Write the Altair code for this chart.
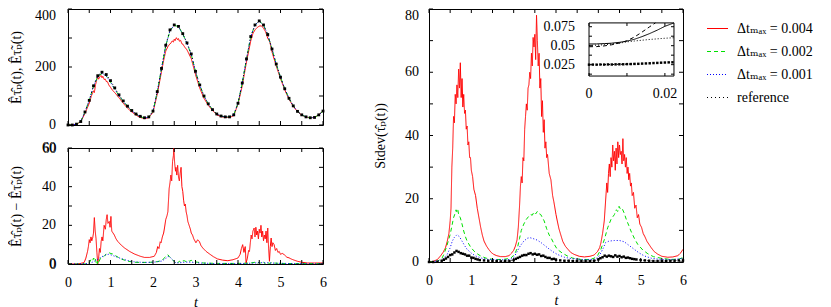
import altair as alt
import pandas as pd

# ---------------- data ----------------
SERIES = ["Δtₘₐₓ = 0.004", "Δtₘₐₓ = 0.002", "Δtₘₐₓ = 0.001", "reference"]
COLORS = ["#ff0000", "#00e000", "#0000ff", "#000000"]
DASHES = [[1, 0], [4, 3], [1, 2], [1, 3]]

T_TOP = [round(0.1 * i, 1) for i in range(61)]
ref_top = [0, 0, 3, 12, 45, 85, 135, 170, 182, 174, 153, 128, 104, 83, 65, 50, 38, 30, 25, 28,
           48, 115, 195, 275, 328, 345, 340, 315, 283, 245, 185, 138, 100, 73, 53, 38, 31, 28, 28, 35,
           75, 145, 228, 305, 345, 359, 345, 312, 262, 210, 165, 125, 92, 66, 47, 35, 28, 25, 26, 35, 48]
green_top = [0, 0, 3, 12, 45, 85, 133, 167, 178, 169, 148, 124, 101, 81, 64, 49, 37, 29, 24, 27,
             47, 114, 194, 273, 325, 344, 339, 314, 281, 243, 184, 137, 100, 73, 53, 38, 31, 28, 28, 35,
             75, 145, 228, 305, 345, 359, 345, 311, 262, 210, 165, 125, 92, 66, 47, 35, 28, 25, 26, 35, 48]
blue_top = [0, 0, 3, 12, 45, 85, 134, 168, 178, 169, 148, 124, 101, 81, 64, 49, 37, 29, 24, 27,
            47, 114, 194, 273, 325, 344, 339, 314, 282, 244, 184, 137, 100, 73, 53, 38, 31, 28, 28, 35,
            75, 145, 228, 305, 345, 358, 345, 312, 262, 210, 165, 125, 92, 66, 47, 35, 28, 25, 26, 35, 48]
red_top = [(0, 0), (0.1, 0), (0.2, 3), (0.3, 11), (0.4, 40), (0.5, 75), (0.55, 100), (0.6, 118), (0.62, 112),
           (0.65, 140), (0.68, 158), (0.70, 165), (0.72, 158), (0.75, 167), (0.78, 171), (0.8, 163), (0.82, 168),
           (0.85, 157), (0.88, 158), (0.9, 150), (0.93, 149), (0.96, 138), (1.0, 130), (1.05, 119), (1.1, 112),
           (1.2, 94), (1.3, 75), (1.4, 58), (1.5, 45), (1.6, 34), (1.7, 26), (1.8, 22), (1.9, 25), (2.0, 44),
           (2.1, 106), (2.2, 184), (2.25, 222), (2.3, 255), (2.35, 270), (2.38, 277), (2.42, 282), (2.45, 290),
           (2.48, 286), (2.5, 296), (2.52, 291), (2.55, 301), (2.58, 294), (2.6, 298), (2.62, 289), (2.65, 292),
           (2.68, 280), (2.7, 279), (2.75, 268), (2.8, 259), (2.9, 229), (3.0, 174), (3.1, 127), (3.2, 92),
           (3.3, 68), (3.4, 50), (3.5, 35), (3.6, 29), (3.7, 26), (3.8, 26), (3.9, 32), (4.0, 72), (4.1, 135),
           (4.2, 218), (4.3, 290), (4.35, 315), (4.4, 328), (4.45, 336), (4.5, 341), (4.55, 342), (4.6, 334),
           (4.65, 321), (4.7, 299), (4.75, 286), (4.8, 252), (4.9, 203), (5.0, 160), (5.1, 121), (5.2, 89),
           (5.3, 64), (5.4, 46), (5.5, 34), (5.6, 27), (5.7, 25), (5.8, 26), (5.9, 35), (6.0, 48)]

red_diff = [(0, 0), (0.2, 0), (0.3, 0.3), (0.38, 0.8), (0.42, 3), (0.46, 6.5), (0.48, 9), (0.5, 12.6), (0.52, 11),
            (0.54, 14), (0.56, 12), (0.58, 13.4), (0.6, 16), (0.62, 24), (0.64, 17), (0.66, 13), (0.68, 6),
            (0.70, 0), (0.72, 3), (0.74, 8), (0.76, 6), (0.78, 11.7), (0.8, 14), (0.82, 12), (0.85, 20),
            (0.88, 18), (0.90, 23), (0.92, 25.5), (0.94, 21), (0.97, 22), (0.99, 19), (1.01, 24.6), (1.03, 17),
            (1.06, 16), (1.09, 15), (1.13, 13), (1.17, 11.7), (1.25, 9.8), (1.33, 8.3), (1.45, 6.5), (1.56, 5.2),
            (1.7, 4), (1.8, 3.4), (1.92, 3.4), (2.03, 4), (2.08, 6), (2.11, 9), (2.14, 8), (2.17, 11.5),
            (2.19, 11), (2.22, 14), (2.25, 16), (2.27, 18.6), (2.3, 23), (2.33, 25), (2.35, 27), (2.37, 35),
            (2.38, 39), (2.40, 42), (2.42, 46), (2.44, 43), (2.46, 53), (2.48, 56), (2.49, 60), (2.51, 52),
            (2.53, 48), (2.54, 50), (2.56, 46), (2.58, 51), (2.60, 45), (2.62, 43), (2.64, 47), (2.66, 50),
            (2.68, 40), (2.70, 37.6), (2.72, 33), (2.74, 30), (2.76, 31), (2.78, 27), (2.80, 25), (2.82, 22),
            (2.85, 20), (2.88, 18), (2.9, 16), (2.93, 15), (2.96, 13), (3.01, 11), (3.05, 12.5), (3.09, 11.7),
            (3.13, 9.5), (3.17, 8.3), (3.25, 6.5), (3.33, 5.2), (3.42, 3.8), (3.52, 2.6), (3.64, 2), (3.76, 1.7),
            (3.88, 2.2), (4.0, 3.1), (4.05, 5), (4.08, 8), (4.11, 10), (4.14, 6), (4.17, 9), (4.19, 0.5),
            (4.22, 3), (4.25, 7), (4.27, 6.5), (4.29, 11), (4.31, 15), (4.33, 13), (4.35, 17), (4.38, 18.6),
            (4.40, 14), (4.42, 19), (4.44, 15), (4.46, 17), (4.48, 13), (4.50, 18), (4.52, 16), (4.54, 20),
            (4.56, 14), (4.58, 17), (4.60, 12), (4.62, 15), (4.64, 13), (4.66, 17), (4.68, 11), (4.70, 18.6),
            (4.72, 8), (4.74, 1.4), (4.76, 9), (4.78, 13.4), (4.80, 9), (4.82, 11), (4.85, 10), (4.88, 7),
            (4.91, 8), (4.94, 6), (4.97, 6.5), (5.0, 5), (5.04, 5.5), (5.09, 4.8), (5.15, 3.5), (5.2, 3.2),
            (5.25, 2.6), (5.32, 2), (5.4, 1.4), (5.5, 0.9), (5.64, 0.5), (5.8, 0.5), (6.0, 0.5)]
green_diff = [(0, 0), (0.4, 0), (0.5, 0.6), (0.54, 2.2), (0.58, 1.5), (0.6, 3.1), (0.62, 2.5), (0.64, 3.3),
              (0.66, 1), (0.68, -0.5), (0.70, 1.4), (0.72, 0.3), (0.75, 2.5), (0.8, 3.2), (0.85, 4), (0.9, 5.2),
              (0.93, 5.7), (0.97, 5.8), (1.01, 5.4), (1.05, 5.2), (1.1, 4.5), (1.18, 3.5), (1.25, 2.6), (1.4, 1.5),
              (1.56, 0.9), (1.75, 0.8), (1.95, 0.9), (2.1, 1.2), (2.19, 1.7), (2.25, 2.8), (2.3, 3.8), (2.35, 4.8),
              (2.38, 4), (2.42, 3), (2.46, 2.2), (2.5, 1.2), (2.54, 0.3), (2.58, 0.5), (2.62, 1.5), (2.66, 0.8),
              (2.7, 1.6), (2.74, 1.7), (2.78, 1.2), (2.82, 2), (2.86, 1.5), (2.9, 1.9), (2.94, 1.3), (3.0, 1.1),
              (3.05, 0.9), (3.2, 0.5), (3.52, 0.3), (3.9, 0.3), (4.2, 0.4), (4.3, 0.5), (4.4, 0.9), (4.45, 0.3),
              (4.5, 1), (4.55, 0.2), (4.6, 0.9), (4.62, 0.7), (4.66, -0.6), (4.7, 0.6), (4.75, 0.3), (4.8, 0.8),
              (4.85, 0.5), (5.0, 0.3), (5.5, 0.2), (6.0, 0.2)]
blue_diff = [(0, 0), (0.5, 0.2), (0.6, 1.2), (0.7, 2.5), (0.8, 3.8), (0.9, 4.8), (0.95, 5), (1.0, 4.8), (1.1, 4),
             (1.25, 2.8), (1.4, 1.8), (1.56, 1.1), (1.8, 0.8), (2.0, 0.9), (2.2, 1.5), (2.3, 2.8), (2.35, 4),
             (2.4, 3.5), (2.46, 2.2), (2.52, 0.8), (2.6, 0.5), (2.75, 1), (2.9, 0.9), (3.1, 0.5), (3.5, 0.2),
             (4.0, 0.2), (4.3, 0.4), (4.5, 0.7), (4.7, 0.6), (4.9, 0.4), (5.3, 0.2), (6.0, 0.1)]

red_std = [(0, 0), (0.1, 0.2), (0.2, 0.8), (0.27, 1.9), (0.33, 3), (0.39, 4.5), (0.43, 6.5), (0.47, 9), (0.5, 13),
           (0.52, 17), (0.54, 30), (0.56, 36), (0.58, 46), (0.6, 44), (0.62, 53), (0.64, 50), (0.66, 56), (0.68, 52),
           (0.70, 61), (0.72, 55), (0.74, 63), (0.76, 52), (0.78, 58), (0.80, 49), (0.82, 53), (0.84, 47),
           (0.86, 48), (0.88, 42), (0.90, 43), (0.92, 37), (0.94, 38), (0.96, 33), (0.98, 33), (1.0, 29),
           (1.03, 27), (1.06, 23), (1.1, 21), (1.14, 17), (1.18, 14), (1.22, 11), (1.26, 8.5), (1.30, 6.6),
           (1.36, 5), (1.41, 4), (1.47, 3), (1.53, 2.4), (1.6, 2), (1.69, 1.7), (1.8, 1.7), (1.89, 2), (1.95, 2.8),
           (2.0, 3.7), (2.04, 5), (2.08, 7), (2.11, 11), (2.14, 18), (2.16, 24), (2.18, 27), (2.20, 25),
           (2.22, 33), (2.24, 32), (2.26, 42), (2.28, 46), (2.30, 50), (2.32, 48), (2.34, 55), (2.36, 56),
           (2.38, 60), (2.40, 58), (2.42, 66), (2.44, 62), (2.46, 71), (2.48, 68), (2.50, 72), (2.52, 64),
           (2.54, 78), (2.56, 70), (2.58, 62), (2.60, 66), (2.62, 55), (2.64, 58), (2.66, 46), (2.68, 51),
           (2.70, 41), (2.72, 45), (2.74, 36), (2.76, 38), (2.78, 33), (2.80, 34), (2.84, 28), (2.88, 26),
           (2.92, 21), (2.95, 19), (3.0, 15), (3.03, 13), (3.07, 10.5), (3.11, 8.7), (3.16, 6.5), (3.22, 5),
           (3.27, 4.2), (3.35, 3), (3.43, 2.4), (3.55, 1.8), (3.67, 1.6), (3.8, 1.8), (3.9, 2.2), (3.98, 3.3),
           (4.03, 4.5), (4.06, 6), (4.1, 9), (4.14, 13), (4.17, 19), (4.2, 25), (4.22, 22), (4.24, 28),
           (4.26, 31), (4.28, 27), (4.30, 33), (4.32, 30), (4.34, 37), (4.36, 32), (4.38, 35), (4.40, 29),
           (4.42, 36), (4.44, 31), (4.46, 38), (4.48, 33), (4.50, 37), (4.52, 34), (4.54, 35), (4.56, 31),
           (4.58, 39), (4.60, 32), (4.62, 34), (4.64, 30), (4.66, 33), (4.68, 28), (4.70, 30), (4.72, 26),
           (4.74, 28), (4.76, 24), (4.78, 25), (4.80, 21), (4.83, 22), (4.86, 17), (4.89, 18), (4.92, 14),
           (4.95, 15), (4.98, 12), (5.02, 11), (5.06, 9), (5.1, 8), (5.15, 6.5), (5.2, 5.5), (5.25, 4.5),
           (5.32, 3.3), (5.4, 2.5), (5.5, 1.8), (5.64, 1.5), (5.76, 1.6), (5.88, 2), (5.94, 2.8), (6.0, 4)]
green_std = [(0, 0), (0.2, 0.3), (0.3, 1), (0.35, 2.4), (0.42, 5), (0.5, 8.7), (0.55, 12), (0.58, 14),
             (0.62, 15.5), (0.64, 16.5), (0.66, 15.8), (0.68, 16.6), (0.70, 15), (0.74, 14), (0.78, 12),
             (0.82, 9.8), (0.86, 8), (0.9, 6.6), (0.98, 4.8), (1.06, 3.5), (1.14, 2.6), (1.22, 1.9), (1.35, 1.2),
             (1.53, 0.8), (1.75, 0.8), (1.93, 1.2), (2.02, 2.4), (2.09, 4.5), (2.14, 7.5), (2.18, 10), (2.24, 12),
             (2.3, 13.5), (2.36, 14.5), (2.4, 15), (2.44, 14.8), (2.48, 15.8), (2.52, 15.2), (2.56, 16),
             (2.6, 15.3), (2.64, 15), (2.68, 14), (2.72, 13), (2.78, 10.5), (2.84, 8.5), (2.88, 7.7), (2.95, 5.8),
             (3.03, 4), (3.15, 2.8), (3.27, 1.9), (3.4, 1.2), (3.59, 0.8), (3.8, 0.8), (3.9, 1.2), (3.98, 2),
             (4.06, 4), (4.14, 7), (4.22, 10.8), (4.3, 13.5), (4.38, 15), (4.42, 16.5), (4.46, 16), (4.49, 17.6),
             (4.52, 16.8), (4.56, 17), (4.61, 15.5), (4.66, 13.5), (4.72, 11.5), (4.77, 9.8), (4.85, 7.5),
             (4.93, 5.6), (5.05, 3.8), (5.17, 2.6), (5.3, 1.7), (5.48, 1.2), (5.7, 0.8), (5.9, 0.9), (6.0, 1.4)]
blue_std = [(0, 0), (0.3, 0.5), (0.43, 2.4), (0.5, 4.5), (0.55, 6.6), (0.6, 7.8), (0.66, 8.6), (0.72, 8),
            (0.78, 6.6), (0.84, 5.2), (0.9, 4), (1.0, 2.8), (1.1, 1.9), (1.25, 1.2), (1.4, 0.8), (1.7, 0.7),
            (1.93, 0.8), (2.02, 1.8), (2.09, 3.5), (2.16, 5.2), (2.24, 6.6), (2.32, 7.5), (2.38, 7.7),
            (2.46, 7.4), (2.56, 6.9), (2.66, 6), (2.8, 4.5), (2.92, 3.3), (3.03, 2.4), (3.2, 1.5), (3.35, 1.1),
            (3.6, 0.8), (3.9, 0.8), (4.0, 1.5), (4.06, 2.9), (4.12, 4.5), (4.17, 6.1), (4.25, 6.6), (4.38, 6.8),
            (4.5, 6.8), (4.61, 6.4), (4.72, 5.3), (4.85, 4), (4.97, 2.8), (5.09, 1.9), (5.25, 1.2), (5.48, 0.8),
            (5.8, 0.8), (6.0, 1.2)]
ref_std = [(0, 0), (0.1, 0), (0.2, 0.1), (0.3, 0.4), (0.35, 0.7), (0.4, 1.1), (0.45, 1.6), (0.5, 2.2),
           (0.55, 2.4), (0.6, 3), (0.65, 3.5), (0.7, 3.2), (0.75, 2.8), (0.8, 2.6), (0.85, 2.4), (0.9, 2),
           (0.95, 2), (1.0, 1.4), (1.05, 1.3), (1.1, 1), (1.15, 0.8), (1.2, 0.6), (1.3, 0.5), (1.4, 0.4),
           (1.5, 0.3), (1.6, 0.3), (1.7, 0.2), (1.8, 0.3), (1.9, 0.3), (2.0, 0.6), (2.05, 1), (2.1, 1.3),
           (2.15, 1.6), (2.2, 2), (2.25, 2.2), (2.3, 2.2), (2.35, 2.6), (2.4, 2.8), (2.45, 2.4), (2.5, 2.6),
           (2.55, 2.3), (2.6, 2.4), (2.65, 1.9), (2.7, 2), (2.75, 1.6), (2.8, 1.3), (2.85, 1.3), (2.9, 0.9),
           (2.95, 1), (3.0, 0.7), (3.1, 0.5), (3.2, 0.4), (3.3, 0.4), (3.4, 0.3), (3.5, 0.3), (3.6, 0.3),
           (3.7, 0.3), (3.8, 0.3), (3.9, 0.4), (4.0, 0.8), (4.05, 1.2), (4.1, 1.5), (4.15, 2), (4.2, 1.7),
           (4.25, 2), (4.3, 1.8), (4.35, 1.6), (4.4, 2.1), (4.45, 1.7), (4.5, 1.9), (4.55, 1.5), (4.6, 1.7),
           (4.65, 1.3), (4.7, 1.4), (4.75, 1.2), (4.8, 1), (4.85, 0.9), (4.9, 0.8), (5.0, 0.6), (5.1, 0.5),
           (5.2, 0.4), (5.3, 0.3), (5.4, 0.3), (5.5, 0.3), (5.6, 0.3), (5.7, 0.4), (5.8, 0.4), (5.9, 0.5),
           (6.0, 0.5)]

inset_solid = [(0, 0.0522), (0.002, 0.0523), (0.004, 0.0527), (0.006, 0.0533), (0.008, 0.0544), (0.010, 0.0560),
               (0.012, 0.0585), (0.014, 0.0620), (0.016, 0.0660), (0.018, 0.0705), (0.020, 0.0755), (0.0224, 0.0800)]
inset_dashed = [(0, 0.0486), (0.002, 0.0488), (0.004, 0.0497), (0.006, 0.0512), (0.008, 0.0535), (0.010, 0.0565),
                (0.012, 0.0615), (0.014, 0.0680), (0.016, 0.0750), (0.0175, 0.0800)]
inset_dotted = [(0, 0.0502), (0.004, 0.0512), (0.008, 0.0533), (0.010, 0.0550), (0.012, 0.0562), (0.016, 0.0582),
                (0.020, 0.0598), (0.0224, 0.0605)]
T_INSET_REF = [round(0.001 * i, 3) for i in range(23)]
inset_ref = [0.0250, 0.0251, 0.0250, 0.0252, 0.0251, 0.0253, 0.0252, 0.0254, 0.0255, 0.0255, 0.0257, 0.0258,
             0.0260, 0.0261, 0.0264, 0.0266, 0.0268, 0.0271, 0.0273, 0.0276, 0.0278, 0.0280, 0.0281]

X_DOMAIN = [0, 6]
X_TICKS = [0, 0.5, 1, 1.5, 2, 2.5, 3, 3.5, 4, 4.5, 5, 5.5, 6]
X_LABELS = [0, 1, 2, 3, 4, 5, 6]
TOP_DOMAIN = [0, 400]
TOP_TICKS = [0, 100, 200, 300, 400]
TOP_LABELS = [0, 200]
TOP_EDGE_LABEL = [400]
DIFF_DOMAIN = [0, 60]
DIFF_TICKS = [0, 10, 20, 30, 40, 50, 60]
DIFF_LABELS = [0, 20, 40, 60]
STD_DOMAIN = [0, 80]
STD_TICKS = [0, 10, 20, 30, 40, 50, 60, 70, 80]
STD_LABELS = [0, 20, 40, 60]
STD_EDGE_LABEL = [80]
INSET_X_DOMAIN = [0, 0.0224]
INSET_X_TICKS = [0, 0.01, 0.02]
INSET_X_LABELS = [0, 0.02]
INSET_Y_DOMAIN = [0.01, 0.08]
INSET_Y_TICKS = [0.0125, 0.025, 0.0375, 0.05, 0.0625, 0.075]
INSET_Y_LABELS = [0.025, 0.05, 0.075]

TITLE_TOP = "Êτ̂ₚ(t), Êτ̃ₚ(t)"
TITLE_DIFF = "Êτ̂ₚ(t) − Êτ̃ₚ(t)"
TITLE_STD = "Stdev(τ̂ₚ(t))"

# ---------------- styling ----------------
FONT = "Liberation Serif, Times New Roman, DejaVu Serif, serif"
W_L, H_TOP, H_BOT = 255, 116, 116
W_R, H_R = 254, 253
# where the inset box sits, in the main panel's own units (t, Stdev)
INSET_AT_X = [3.78, 5.787]
INSET_AT_Y = [58.8, 75.6]


def pairs_df(pairs, name):
    return pd.DataFrame({"t": [p[0] for p in pairs], "v": [p[1] for p in pairs], "series": name})


def grid_df(ts, vs, name):
    return pd.DataFrame({"t": ts, "v": vs, "series": name})


def fx(field):
    k = (INSET_AT_X[1] - INSET_AT_X[0]) / (INSET_X_DOMAIN[1] - INSET_X_DOMAIN[0])
    return f"{INSET_AT_X[0]} + (datum['{field}'] - {INSET_X_DOMAIN[0]}) * {k}"


def fy(field):
    k = (INSET_AT_Y[1] - INSET_AT_Y[0]) / (INSET_Y_DOMAIN[1] - INSET_Y_DOMAIN[0])
    return f"{INSET_AT_Y[0]} + (datum['{field}'] - {INSET_Y_DOMAIN[0]}) * {k}"


LEGEND = alt.Legend(title=None, orient="none", legendX=638, legendY=8, symbolType="stroke",
                    symbolSize=441, symbolStrokeWidth=1.2, labelFont=FONT, labelFontSize=14,
                    labelOffset=8, rowPadding=4, labelLimit=0, padding=0, labelColor="black")
COLOR = alt.Color("series:N", scale=alt.Scale(domain=SERIES, range=COLORS), legend=LEGEND)
DASH = alt.StrokeDash("series:N", scale=alt.Scale(domain=SERIES, range=DASHES), legend=LEGEND)


def sc(domain):
    return alt.Scale(domain=domain, nice=False, zero=False)


def X(field, scale, hide):
    return alt.X(field, scale=scale, axis=None) if hide else alt.X(field, scale=scale)


def ticks(xs, ys, xdom, ydom, xt, yt, n=4, inset=False, hide_x=False):
    h = n / 2
    out = []
    specs = []
    for e, off in ((ydom[0], -h), (ydom[1], h)):
        specs.append((pd.DataFrame({"xv": xt, "yv": [e] * len(xt)}), "vertical", {"yOffset": off}))
    for e, off in ((xdom[0], h), (xdom[1], -h)):
        specs.append((pd.DataFrame({"xv": [e] * len(yt), "yv": yt}), "horizontal", {"xOffset": off}))
    for d, orient, offs in specs:
        c = alt.Chart(d)
        xf, yf = "xv", "yv"
        if inset:
            c = c.transform_calculate(X=fx("xv"), Y=fy("yv"))
            xf, yf = "X", "Y"
        out.append(c.mark_tick(orient=orient, size=n, thickness=1, color="black", opacity=1, **offs).encode(
            x=X(f"{xf}:Q", xs, hide_x), y=alt.Y(f"{yf}:Q", scale=ys)))
    return out


def ylabels(xs, ys, xmin, values, pad, baseline, panel, hide_x=False):
    layers = []
    for val in values:
        d = pd.DataFrame({"v": [val], "e": [xmin], "panel": [panel]})
        layers.append(alt.Chart(d).mark_text(align="right", baseline=baseline, dx=-pad, font=FONT, fontSize=14,
                                             color="black").encode(
            x=X("e:Q", xs, hide_x), y=alt.Y("v:Q", scale=ys), text=alt.Text("v:Q", format="d")))
    return layers


def yaxis(title, title_x):
    return alt.Axis(labels=False, title=title, titleX=title_x, titleBaseline="middle", orient="left")


XAXIS = alt.Axis(values=X_LABELS, format="d", title="t", titleFontStyle="italic", titleY=42,
                 titleBaseline="alphabetic", labelPadding=11, labelFlush=False, orient="bottom",
                 labelOverlap=False)

xs = sc(X_DOMAIN)

# ---- top-left panel ----
ys_top = sc(TOP_DOMAIN)
top_lines_df = pd.concat([pairs_df(red_top, SERIES[0]), grid_df(T_TOP, green_top, SERIES[1]),
                          grid_df(T_TOP, blue_top, SERIES[2])])
top_ref_df = grid_df(T_TOP, ref_top, SERIES[3])
top = alt.layer(
    alt.Chart(top_lines_df).mark_line(strokeWidth=1, clip=True).encode(
        x=alt.X("t:Q", scale=xs, axis=None),
        y=alt.Y("v:Q", scale=ys_top, axis=yaxis(TITLE_TOP, -52)),
        color=COLOR, strokeDash=DASH),
    alt.Chart(top_ref_df).mark_line(strokeWidth=1, clip=True).encode(
        x=alt.X("t:Q", scale=xs, axis=None), y=alt.Y("v:Q", scale=ys_top),
        color=COLOR, strokeDash=DASH),
    alt.Chart(top_ref_df).mark_point(shape="square", filled=True, size=8, color="black", opacity=1).encode(
        x=alt.X("t:Q", scale=xs, axis=None), y=alt.Y("v:Q", scale=ys_top)),
    *ylabels(xs, ys_top, X_DOMAIN[0], TOP_LABELS, 12, "middle", "top", hide_x=True),
    *ylabels(xs, ys_top, X_DOMAIN[0], TOP_EDGE_LABEL, 12, "top", "top", hide_x=True),
    *ticks(xs, ys_top, X_DOMAIN, TOP_DOMAIN, X_TICKS, TOP_TICKS, hide_x=True),
).properties(width=W_L, height=H_TOP)

# ---- bottom-left panel ----
ys_diff = sc(DIFF_DOMAIN)
diff_df = pd.concat([pairs_df(red_diff, SERIES[0]), pairs_df(green_diff, SERIES[1]),
                     pairs_df(blue_diff, SERIES[2])])
DIFF_YAXIS = alt.Axis(values=DIFF_LABELS, format="d", labelPadding=12, labelOverlap=False, labelFlush=False,
                      title=TITLE_DIFF, titleX=-52, titleBaseline="middle", orient="left", zindex=1)
bottom = alt.layer(
    alt.Chart(diff_df).mark_line(strokeWidth=1, clip=True).encode(
        x=alt.X("t:Q", scale=xs, axis=XAXIS),
        y=alt.Y("v:Q", scale=ys_diff, axis=DIFF_YAXIS),
        color=COLOR, strokeDash=DASH),
    *ticks(xs, ys_diff, X_DOMAIN, DIFF_DOMAIN, X_TICKS, DIFF_TICKS),
    *ylabels(xs, ys_diff, X_DOMAIN[0], DIFF_LABELS, 12, "middle", "diff"),
).properties(width=W_L, height=H_BOT)

# ---- right panel with inset ----
ys_std = sc(STD_DOMAIN)
std_df = pd.concat([pairs_df(red_std, SERIES[0]), pairs_df(green_std, SERIES[1]),
                    pairs_df(blue_std, SERIES[2])])
std_ref_df = pairs_df(ref_std, SERIES[3])

inset_df = pd.concat([pairs_df(inset_solid, SERIES[0]), pairs_df(inset_dashed, SERIES[1]),
                      pairs_df(inset_dotted, SERIES[2])])
inset_ref_df = grid_df(T_INSET_REF, inset_ref, SERIES[3])
inset_box = pd.DataFrame({"x0": [INSET_X_DOMAIN[0]], "x1": [INSET_X_DOMAIN[1]],
                          "y0": [INSET_Y_DOMAIN[0]], "y1": [INSET_Y_DOMAIN[1]]})
inset_xlab = pd.DataFrame({"xv": INSET_X_LABELS, "yv": [INSET_Y_DOMAIN[0]] * len(INSET_X_LABELS)})
inset_ylab = pd.DataFrame({"xv": [INSET_X_DOMAIN[0]] * len(INSET_Y_LABELS), "yv": INSET_Y_LABELS})


def ix(c, xf="t", yf="v"):
    return c.transform_calculate(X=fx(xf), Y=fy(yf))


XI = alt.X("X:Q", scale=xs)
YI = alt.Y("Y:Q", scale=ys_std)

right = alt.layer(
    alt.Chart(std_df).mark_line(strokeWidth=1, clip=True).encode(
        x=alt.X("t:Q", scale=xs, axis=XAXIS),
        y=alt.Y("v:Q", scale=ys_std, axis=yaxis(TITLE_STD, -49)),
        color=COLOR, strokeDash=DASH),
    alt.Chart(std_ref_df).mark_line(strokeWidth=1, clip=True).encode(
        x=alt.X("t:Q", scale=xs), y=alt.Y("v:Q", scale=ys_std), color=COLOR, strokeDash=DASH),
    alt.Chart(std_ref_df).mark_point(shape="square", filled=True, size=6, color="black", opacity=1).encode(
        x=alt.X("t:Q", scale=xs), y=alt.Y("v:Q", scale=ys_std)),
    *ylabels(xs, ys_std, X_DOMAIN[0], STD_LABELS, 10, "middle", "std"),
    *ylabels(xs, ys_std, X_DOMAIN[0], STD_EDGE_LABEL, 10, "top", "std"),
    *ticks(xs, ys_std, X_DOMAIN, STD_DOMAIN, X_TICKS, STD_TICKS),
    # inset
    alt.Chart(inset_box).transform_calculate(X=fx("x0"), X2=fx("x1"), Y=fy("y0"), Y2=fy("y1")).mark_rect(
        fill="white", stroke="black", strokeWidth=1).encode(x=XI, x2="X2:Q", y=YI, y2="Y2:Q"),
    ix(alt.Chart(inset_df)).mark_line(strokeWidth=1, color="black").encode(
        x=XI, y=YI, strokeDash=DASH),
    ix(alt.Chart(inset_ref_df)).mark_line(strokeWidth=1, color="black").encode(
        x=XI, y=YI, strokeDash=DASH),
    ix(alt.Chart(inset_ref_df)).mark_point(shape="square", filled=True, size=6, color="black",
                                           opacity=1).encode(x=XI, y=YI),
    ix(alt.Chart(inset_xlab), "xv", "yv").mark_text(baseline="top", align="center", dy=11, font=FONT,
                                                   fontSize=14, color="black").encode(
        x=XI, y=YI, text=alt.Text("xv:Q", format="~g")),
    ix(alt.Chart(inset_ylab), "xv", "yv").mark_text(baseline="middle", align="right", dx=-14, font=FONT,
                                                   fontSize=14, color="black").encode(
        x=XI, y=YI, text=alt.Text("yv:Q", format="~g")),
    *ticks(xs, ys_std, INSET_X_DOMAIN, INSET_Y_DOMAIN, INSET_X_TICKS, INSET_Y_TICKS, n=3, inset=True),
).properties(width=W_R, height=H_R)

# default ("full") bounds for the stacked pair: the gap is measured between the label extents
left = alt.vconcat(top, bottom, spacing=7)
chart = alt.hconcat(left, right, spacing=45).properties(padding=0).configure_view(
    stroke="black", strokeWidth=1).configure_axis(
    labelFont=FONT, labelFontSize=14, labelColor="black", titleFont=FONT, titleFontSize=14,
    titleColor="black", titleFontWeight="normal", domain=False, ticks=False, grid=False)

chart.save("out.html", embed_options={"renderer": "svg", "actions": False})
